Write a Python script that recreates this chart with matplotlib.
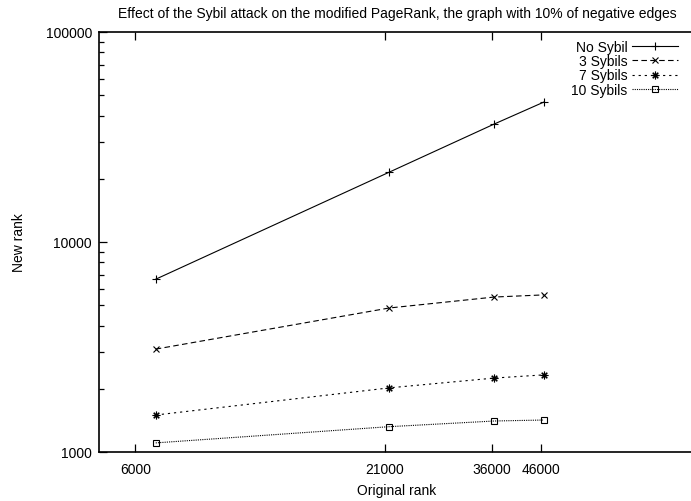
import matplotlib.pyplot as plt
from matplotlib.ticker import FixedLocator, NullLocator, LogLocator, NullFormatter

plt.rcParams['font.family'] = ['Liberation Sans', 'DejaVu Sans']
plt.rcParams['font.size'] = 10

# data
orig_rank = [6650, 21500, 36500, 46800]
no_sybil = [6650, 21500, 36500, 46400]
sybil3 = [3090, 4850, 5470, 5600]
sybil7 = [1500, 2020, 2250, 2330]
sybil10 = [1105, 1320, 1405, 1420]

xticks = [6000, 21000, 36000, 46000]
xtick_labels = ['6000', '21000', '36000', '46000']
yticks = [1000, 10000, 100000]
ytick_labels = ['1000', '10000', '100000']

W, H = 691, 502
fig = plt.figure(figsize=(W / 100, H / 100), dpi=100)
# frame runs past the right edge of the picture, as in the original
ax = fig.add_axes([99 / W, (H - 453) / H, 596 / W, 420 / H])

ax.set_xscale('log')
ax.set_yscale('log')

lw = 0.8
ax.plot(orig_rank, no_sybil, color='black', lw=lw, ls='-',
        marker='+', ms=5.5, mew=0.8, label='No Sybil')
ax.plot(orig_rank, sybil3, color='black', lw=lw, ls=(0, (5, 3)),
        marker='x', ms=5, mew=0.8, label='3 Sybils')
ax.plot(orig_rank, sybil7, color='black', lw=lw, ls=(0, (2, 3.5)),
        marker=(8, 2, 0), ms=5.5, mew=0.8, label='7 Sybils')
ax.plot(orig_rank, sybil10, color='black', lw=lw, ls=(0, (1, 1)),
        marker='s', ms=5, mew=0.8, mfc='none', label='10 Sybils')

ax.set_xlim(5000, 100000)
ax.set_ylim(1000, 100000)

ax.xaxis.set_major_locator(FixedLocator(xticks))
ax.set_xticklabels(xtick_labels)
ax.xaxis.set_minor_locator(NullLocator())
ax.yaxis.set_major_locator(FixedLocator(yticks))
ax.set_yticklabels(ytick_labels)
ax.yaxis.set_minor_locator(LogLocator(base=10, subs=range(2, 10)))
ax.yaxis.set_minor_formatter(NullFormatter())

ax.tick_params(which='both', direction='in', top=True, right=False, color='black')
ax.tick_params(which='major', length=6, width=0.9)
ax.tick_params(which='minor', length=3.5, width=0.9)
ax.tick_params(axis='x', pad=7)
ax.tick_params(axis='y', pad=5)
for s in ax.spines.values():
    s.set_linewidth(1.2)

ax.set_title('Effect of the Sybil attack on the modified PageRank, the graph with 10% of negative edges',
             fontsize=10, pad=11)
ax.set_xlabel('Original rank', labelpad=5)
ax.set_ylabel('New rank', labelpad=14)

ax.legend(loc='upper right', bbox_to_anchor=(0.98, 0.995), markerfirst=False,
          frameon=False, handlelength=3.3, handletextpad=0.3,
          labelspacing=0.03, borderaxespad=0, fontsize=10)

fig.savefig('out.png', dpi=100)
